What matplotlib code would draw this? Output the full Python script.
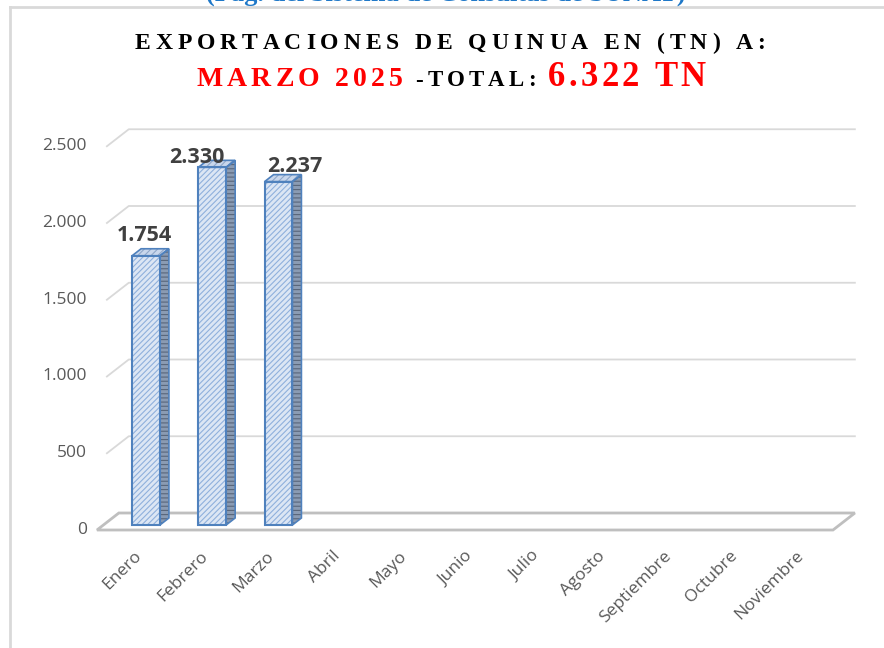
import matplotlib
matplotlib.use('Agg')
import matplotlib.pyplot as plt
from matplotlib.offsetbox import TextArea, HPacker, AnchoredOffsetbox
from matplotlib.lines import Line2D

# Datos
meses = ['Enero', 'Febrero', 'Marzo', 'Abril', 'Mayo', 'Junio', 'Julio',
         'Agosto', 'Septiembre', 'Octubre', 'Noviembre']
exportaciones = [1754, 2330, 2237]
ticks_y = [0, 500, 1000, 1500, 2000, 2500]

# Escala en pixeles (figura 884x648)
SX = 66.25    # px por categoria
SY = 0.1535   # px por tonelada
X0 = 146      # pixel de Enero
Y0 = 530      # pixel (desde arriba) del valor 0

fig = plt.figure(figsize=(8.84, 6.48), dpi=100)
ax = fig.add_axes([0, 0, 1, 1])
ax.set_xlim(-X0 / SX, (884 - X0) / SX)
ax.set_ylim(-(648 - Y0) / SY, Y0 / SY)
ax.axis('off')

gris_grid = '#d9d9d9'
back_dx = 0.33
back_dy = 17 / SY

# Lineas de cuadricula (pared del fondo)
for v in ticks_y[1:]:
    ax.plot([-0.59, -0.59 + back_dx, 10.70], [v, v + back_dy, v + back_dy],
            color=gris_grid, lw=1.3, zorder=1)
for v in ticks_y:
    ax.text(-0.89, v, f'{v:,}'.replace(',', '.'), ha='right', va='center',
            fontsize=12.5, color='#595959', family='Open Sans')

# Piso
ax.fill([-0.74, 10.37, 10.37 + back_dx, -0.74 + back_dx],
        [0, 0, back_dy, back_dy], facecolor='white',
        edgecolor='#bfbfbf', lw=2, zorder=2)

# Barras pseudo 3D
plt.rcParams['hatch.linewidth'] = 0.8
w = 0.42
bdy = 5 / SY
ddx = 9 / SX
ddy = 7 / SY
xs = list(range(len(exportaciones)))
ax.bar(xs, exportaciones, width=w, bottom=bdy, color='#dce6f4',
       edgecolor='#8fb0dc', hatch='//////', lw=0, zorder=3)
ax.bar(xs, exportaciones, width=w, bottom=bdy, fill=False,
       edgecolor='#4f81bd', lw=1.5, zorder=4)
for x, v in zip(xs, exportaciones):
    top = v + bdy
    r = x + w / 2
    l = x - w / 2
    ax.fill([r, r + ddx, r + ddx, r], [bdy, bdy + ddy, top + ddy, top],
            facecolor='#8a9bb3', edgecolor='#59667a', hatch='----',
            lw=0, zorder=3)
    ax.fill([r, r + ddx, r + ddx, r], [bdy, bdy + ddy, top + ddy, top],
            fill=False, edgecolor='#4f81bd', lw=1.2, zorder=4)
    ax.fill([l, r, r + ddx, l + ddx], [top, top, top + ddy, top + ddy],
            facecolor='#c9d7ec', edgecolor='#8fa7c9', hatch='/////',
            lw=0, zorder=3)
    ax.fill([l, r, r + ddx, l + ddx], [top, top, top + ddy, top + ddy],
            fill=False, edgecolor='#4f81bd', lw=1.2, zorder=4)

# Etiquetas de valor
desp = [(-1, 2), (-11, -5.5), (12, -2)]
for x, v, (ox, oy) in zip(xs, exportaciones, desp):
    ax.annotate(f'{v:,}'.replace(',', '.'), xy=(x, v + bdy + ddy),
                xytext=(ox, oy), textcoords='offset points',
                ha='center', va='bottom', fontsize=15.5, fontweight='bold',
                color='#404040', family='Open Sans', zorder=5)

# Etiquetas de categorias
for i, m in enumerate(meses):
    ax.text(i - 0.19, -117, m, rotation=45, rotation_mode='anchor',
            ha='right', va='top', fontsize=12.5, color='#595959',
            family='Open Sans')


# Titulo con espaciado de letras
def espaciado(s, size, color, sep):
    hijos = [TextArea(c, textprops=dict(fontsize=size, color=color,
                                        fontweight='bold',
                                        family='Liberation Serif'))
             for c in s]
    return HPacker(children=hijos, align='baseline', pad=0, sep=sep)


def poner(caja, x, y):
    ab = AnchoredOffsetbox(loc='center', child=caja, pad=0, borderpad=0,
                           frameon=False, bbox_to_anchor=(x, y),
                           bbox_transform=fig.transFigure)
    fig.add_artist(ab)


linea1 = espaciado('EXPORTACIONES DE QUINUA EN (TN) A:', 17, 'black', 3.5)
poner(linea1, 450 / 884, 1 - 43 / 648)

linea2 = HPacker(children=[espaciado('MARZO 2025', 20, 'red', 3),
                           espaciado('-TOTAL:', 16.5, 'black', 3),
                           espaciado('6.322 TN', 25, 'red', 2.3)],
                 align='baseline', pad=0, sep=9)
poner(linea2, 451 / 884, 1 - 78 / 648)

# Texto azul recortado en el borde superior
fig.text(446 / 884, 1 - 1 / 648, '(Pag. del Sistema de Consultas de SUNAT)',
         ha='center', va='baseline', fontsize=19, fontweight='bold',
         color='#1f78c8', family='Liberation Serif')

# Marco gris
fig.add_artist(Line2D([10 / 884, 1], [1 - 7 / 648, 1 - 7 / 648],
                      transform=fig.transFigure, color='#d9d9d9', lw=2))
fig.add_artist(Line2D([10 / 884, 10 / 884], [0, 1 - 7 / 648],
                      transform=fig.transFigure, color='#d9d9d9', lw=2))

fig.savefig('out.png', dpi=100)
